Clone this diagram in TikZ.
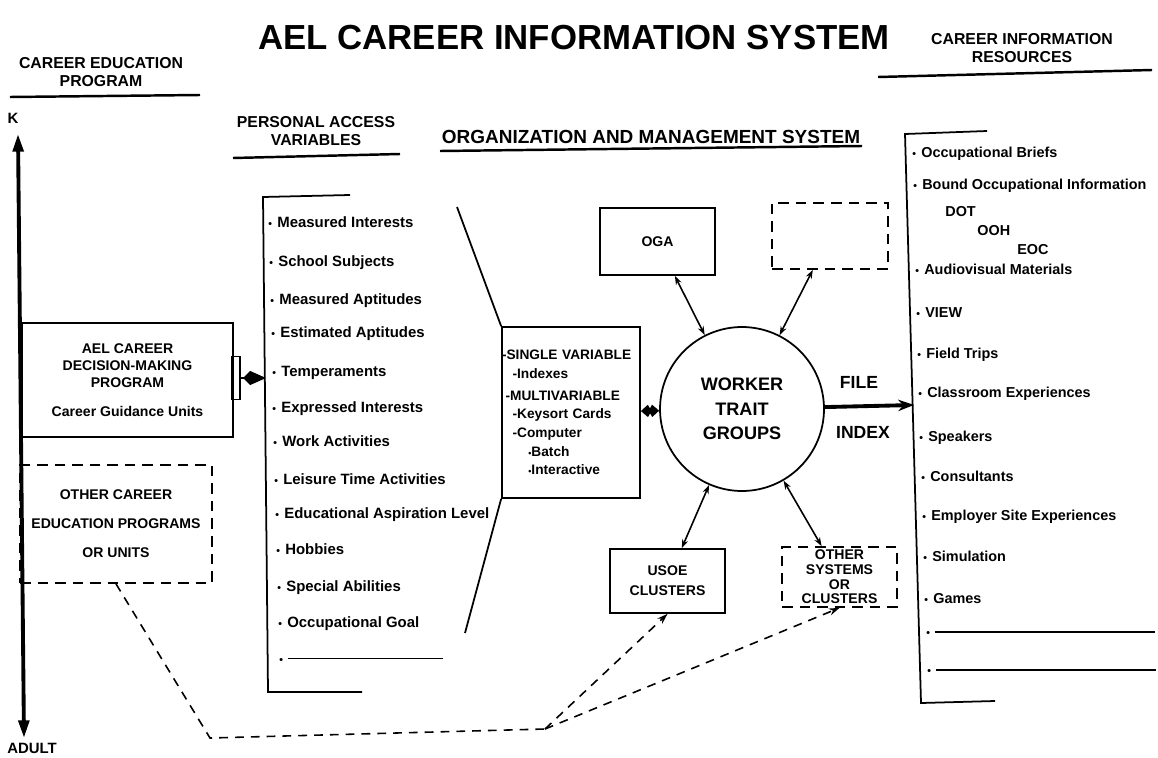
\documentclass[tikz,border=0pt]{standalone}
\usepackage{fontspec}
\setmainfont{Liberation Sans}
\usepackage{tikz}
\usetikzlibrary{positioning,arrows.meta}

\newcommand{\itemdot}{{\fontsize{6}{6}\selectfont\textbullet}\hspace{3pt}}
\newcommand{\subdot}{{\fontsize{5}{5}\selectfont\textbullet}}

\begin{document}
\begin{tikzpicture}[x=0.02cm,y=-0.02cm,
        every node/.style={inner sep=0pt,font=\bfseries\fontsize{8}{9.5}\selectfont},
        heading/.style={align=center,font=\bfseries\fontsize{9}{10}\selectfont},
        rule/.style={line width=1.4pt},
        bracket/.style={line width=1pt},
        box/.style={draw,line width=1pt,rectangle,align=center},
        dashbox/.style={box,dash pattern=on 6pt off 4pt},
        item/.style={anchor=base west,font=\bfseries\fontsize{8.5}{10}\selectfont},
        ritem/.style={item,font=\bfseries\fontsize{8.2}{10}\selectfont},
        link/.style={line width=.9pt,{Stealth[length=5pt,width=3.5pt]}-{Stealth[length=5pt,width=3.5pt]}},
        trail/.style={line width=.9pt,dash pattern=on 5pt off 4pt}]
    \useasboundingbox [fill=white] (0,0) rectangle (1158,757);

    % headings
    \node (title) [font=\bfseries\fontsize{19.8}{23}\selectfont] at (574,38) {AEL CAREER INFORMATION SYSTEM};
    \node (cephead) [heading] at (101,72) {CAREER EDUCATION\\PROGRAM};
    \node (pavhead) [heading] at (316,131) {PERSONAL ACCESS\\VARIABLES};
    \node (omshead) [heading,font=\bfseries\fontsize{10.8}{12}\selectfont] at (651,137) {ORGANIZATION AND MANAGEMENT SYSTEM};
    \node (cirhead) [heading] at (1022,48) {CAREER INFORMATION\\RESOURCES};
    \draw [rule] (10,97) -- (200,95);
    \draw [rule] (233,158) -- (400,154);
    \draw [rule] (440,151) -- (862,146);
    \draw [rule] (878,77) -- (1152,70);

    % career education program column
    \node (aelcdm) [box,minimum width=4.22cm,minimum height=2.28cm] at (127.5,380)
        {AEL CAREER\\DECISION-MAKING\\PROGRAM\\[7pt]Career Guidance Units};
    \node (othprog) [dashbox,minimum width=3.84cm,minimum height=2.36cm,
        font=\bfseries\fontsize{8}{16.5}\selectfont] at (116,524)
        {OTHER CAREER\\EDUCATION PROGRAMS\\OR UNITS};
    \node (tab) [box,minimum width=0.16cm,minimum height=0.86cm] at (236,378) {};
    \node (k) [font=\bfseries\fontsize{8.5}{10}\selectfont] at (13,118) {K};
    \node (adult) [font=\bfseries\fontsize{8.5}{10}\selectfont] at (32,748) {ADULT};
    \coordinate (ktop) at (18,134);
    \coordinate (kbot) at (24,738);
    \draw [line width=2.2pt,{Triangle[length=10pt,width=6pt]}-{Triangle[length=10pt,width=6pt]}] (ktop) -- (kbot);

    % personal access variables
    \draw [bracket] (350,195) -- (263,197) -- (268,692) -- (362,692);
    \node (pmint) [item] at (268,227) {\itemdot Measured Interests};
    \node (pschool) [item] at (269,266) {\itemdot School Subjects};
    \node (pmapt) [item] at (270,304) {\itemdot Measured Aptitudes};
    \node (peapt) [item] at (271,337) {\itemdot Estimated Aptitudes};
    \node (ptemp) [item] at (272,376) {\itemdot Temperaments};
    \node (pexint) [item] at (272,412) {\itemdot Expressed Interests};
    \node (pwork) [item] at (273,446) {\itemdot Work Activities};
    \node (pleis) [item] at (274,484) {\itemdot Leisure Time Activities};
    \node (pedasp) [item] at (275,518) {\itemdot Educational Aspiration Level};
    \node (phob) [item] at (276,554) {\itemdot Hobbies};
    \node (pspec) [item] at (277,591) {\itemdot Special Abilities};
    \node (pgoal) [item] at (278,627) {\itemdot Occupational Goal};
    \node (pblank) [item] at (279,663) {\itemdot\rule[.45ex]{3.1cm}{.9pt}};
    \coordinate (pavin) at (266,378);
    \draw [line width=1pt,-{Kite[length=13pt,width=8pt,inset=4pt]}] (tab.east) -- (pavin);

    % organization and management system
    \coordinate (ftop) at (457,207);
    \coordinate (fbot) at (465,633);
    \node (sv) [box,minimum width=2.76cm,minimum height=3.42cm,align=left,text width=2.76cm,
        font=\bfseries\fontsize{7.8}{10.6}\selectfont] at (571,412.5)
        {-SINGLE VARIABLE\\
        \hspace{6pt}-Indexes\\[2pt]
        \hspace{2pt}-MULTIVARIABLE\\
        \hspace{6pt}-Keysort Cards\\
        \hspace{6pt}-Computer\\
        \hspace{15pt}\subdot Batch\\
        \hspace{15pt}\subdot Interactive};
    \draw [line width=1pt] (ftop) -- (sv.north west);
    \draw [line width=1pt] (sv.south west) -- (fbot);
    \node (wtg) [circle,draw,line width=1pt,minimum size=3.28cm,align=center,
        font=\bfseries\fontsize{10.3}{13.9}\selectfont] at (742,409) {WORKER\\TRAIT\\GROUPS};
    \node (oga) [box,minimum width=2.3cm,minimum height=1.34cm] at (657.5,241.5) {OGA};
    \node (othtop) [dashbox,minimum width=2.32cm,minimum height=1.32cm] at (830,236) {};
    \node (usoe) [box,minimum width=2.3cm,minimum height=1.28cm,
        font=\bfseries\fontsize{8}{11.3}\selectfont] at (667.5,581) {USOE\\CLUSTERS};
    \node (othsys) [dashbox,minimum width=2.3cm,minimum height=1.2cm,
        font=\bfseries\fontsize{8}{8.3}\selectfont] at (839.5,577) {OTHER\\SYSTEMS\\OR\\CLUSTERS};
    \draw [line width=1pt,{Kite[length=6pt,width=7pt,inset=2pt]}-{Kite[length=6pt,width=7pt,inset=2pt]}] (sv) -- (wtg);
    \draw [link] (oga) -- (wtg);
    \draw [link] (othtop) -- (wtg);
    \draw [link] (usoe) -- (wtg);
    \draw [link] (othsys) -- (wtg);
    \node (file) [font=\bfseries\fontsize{10}{12}\selectfont] at (859,382) {FILE};
    \node (index) [font=\bfseries\fontsize{10}{12}\selectfont] at (863,432) {INDEX};
    \coordinate (cirin) at (914,405);
    \draw [line width=2.2pt,-{Stealth[length=9pt,width=6.5pt]}] (wtg) -- (cirin);

    % dashed route back to the other programs
    \coordinate (bend) at (210,738);
    \coordinate (fork) at (545,729);
    \draw [trail] (othprog.south) -- (bend) -- (fork);
    \draw [trail,-{Stealth[length=6pt,width=4pt]}] (fork) -- (usoe.south);
    \draw [trail,-{Stealth[length=6pt,width=4pt]}] (fork) -- (othsys.south);

    % career information resources
    \draw [bracket] (987,131) -- (905,134) -- (921,703) -- (995,701);
    \node (rbrief) [ritem] at (912,157) {\itemdot Occupational Briefs};
    \node (rbound) [ritem] at (913,189) {\itemdot Bound Occupational Information};
    \node (rdot) [ritem] at (945,216) {DOT};
    \node (rooh) [ritem] at (977,235) {OOH};
    \node (reoc) [ritem] at (1017,254) {EOC};
    \node (raudio) [ritem] at (915,274) {\itemdot Audiovisual Materials};
    \node (rview) [ritem] at (916,317) {\itemdot VIEW};
    \node (rfield) [ritem] at (917,358) {\itemdot Field Trips};
    \node (rclass) [ritem] at (918,397) {\itemdot Classroom Experiences};
    \node (rspeak) [ritem] at (919,441) {\itemdot Speakers};
    \node (rcons) [ritem] at (921,481) {\itemdot Consultants};
    \node (remploy) [ritem] at (922,520) {\itemdot Employer Site Experiences};
    \node (rsim) [ritem] at (923,561) {\itemdot Simulation};
    \node (rgames) [ritem] at (924,603) {\itemdot Games};
    \node (rblanka) [ritem] at (926,636) {\itemdot\rule[.45ex]{4.4cm}{.9pt}};
    \node (rblankb) [ritem] at (927,674) {\itemdot\rule[.45ex]{4.4cm}{.9pt}};
\end{tikzpicture}
\end{document}
